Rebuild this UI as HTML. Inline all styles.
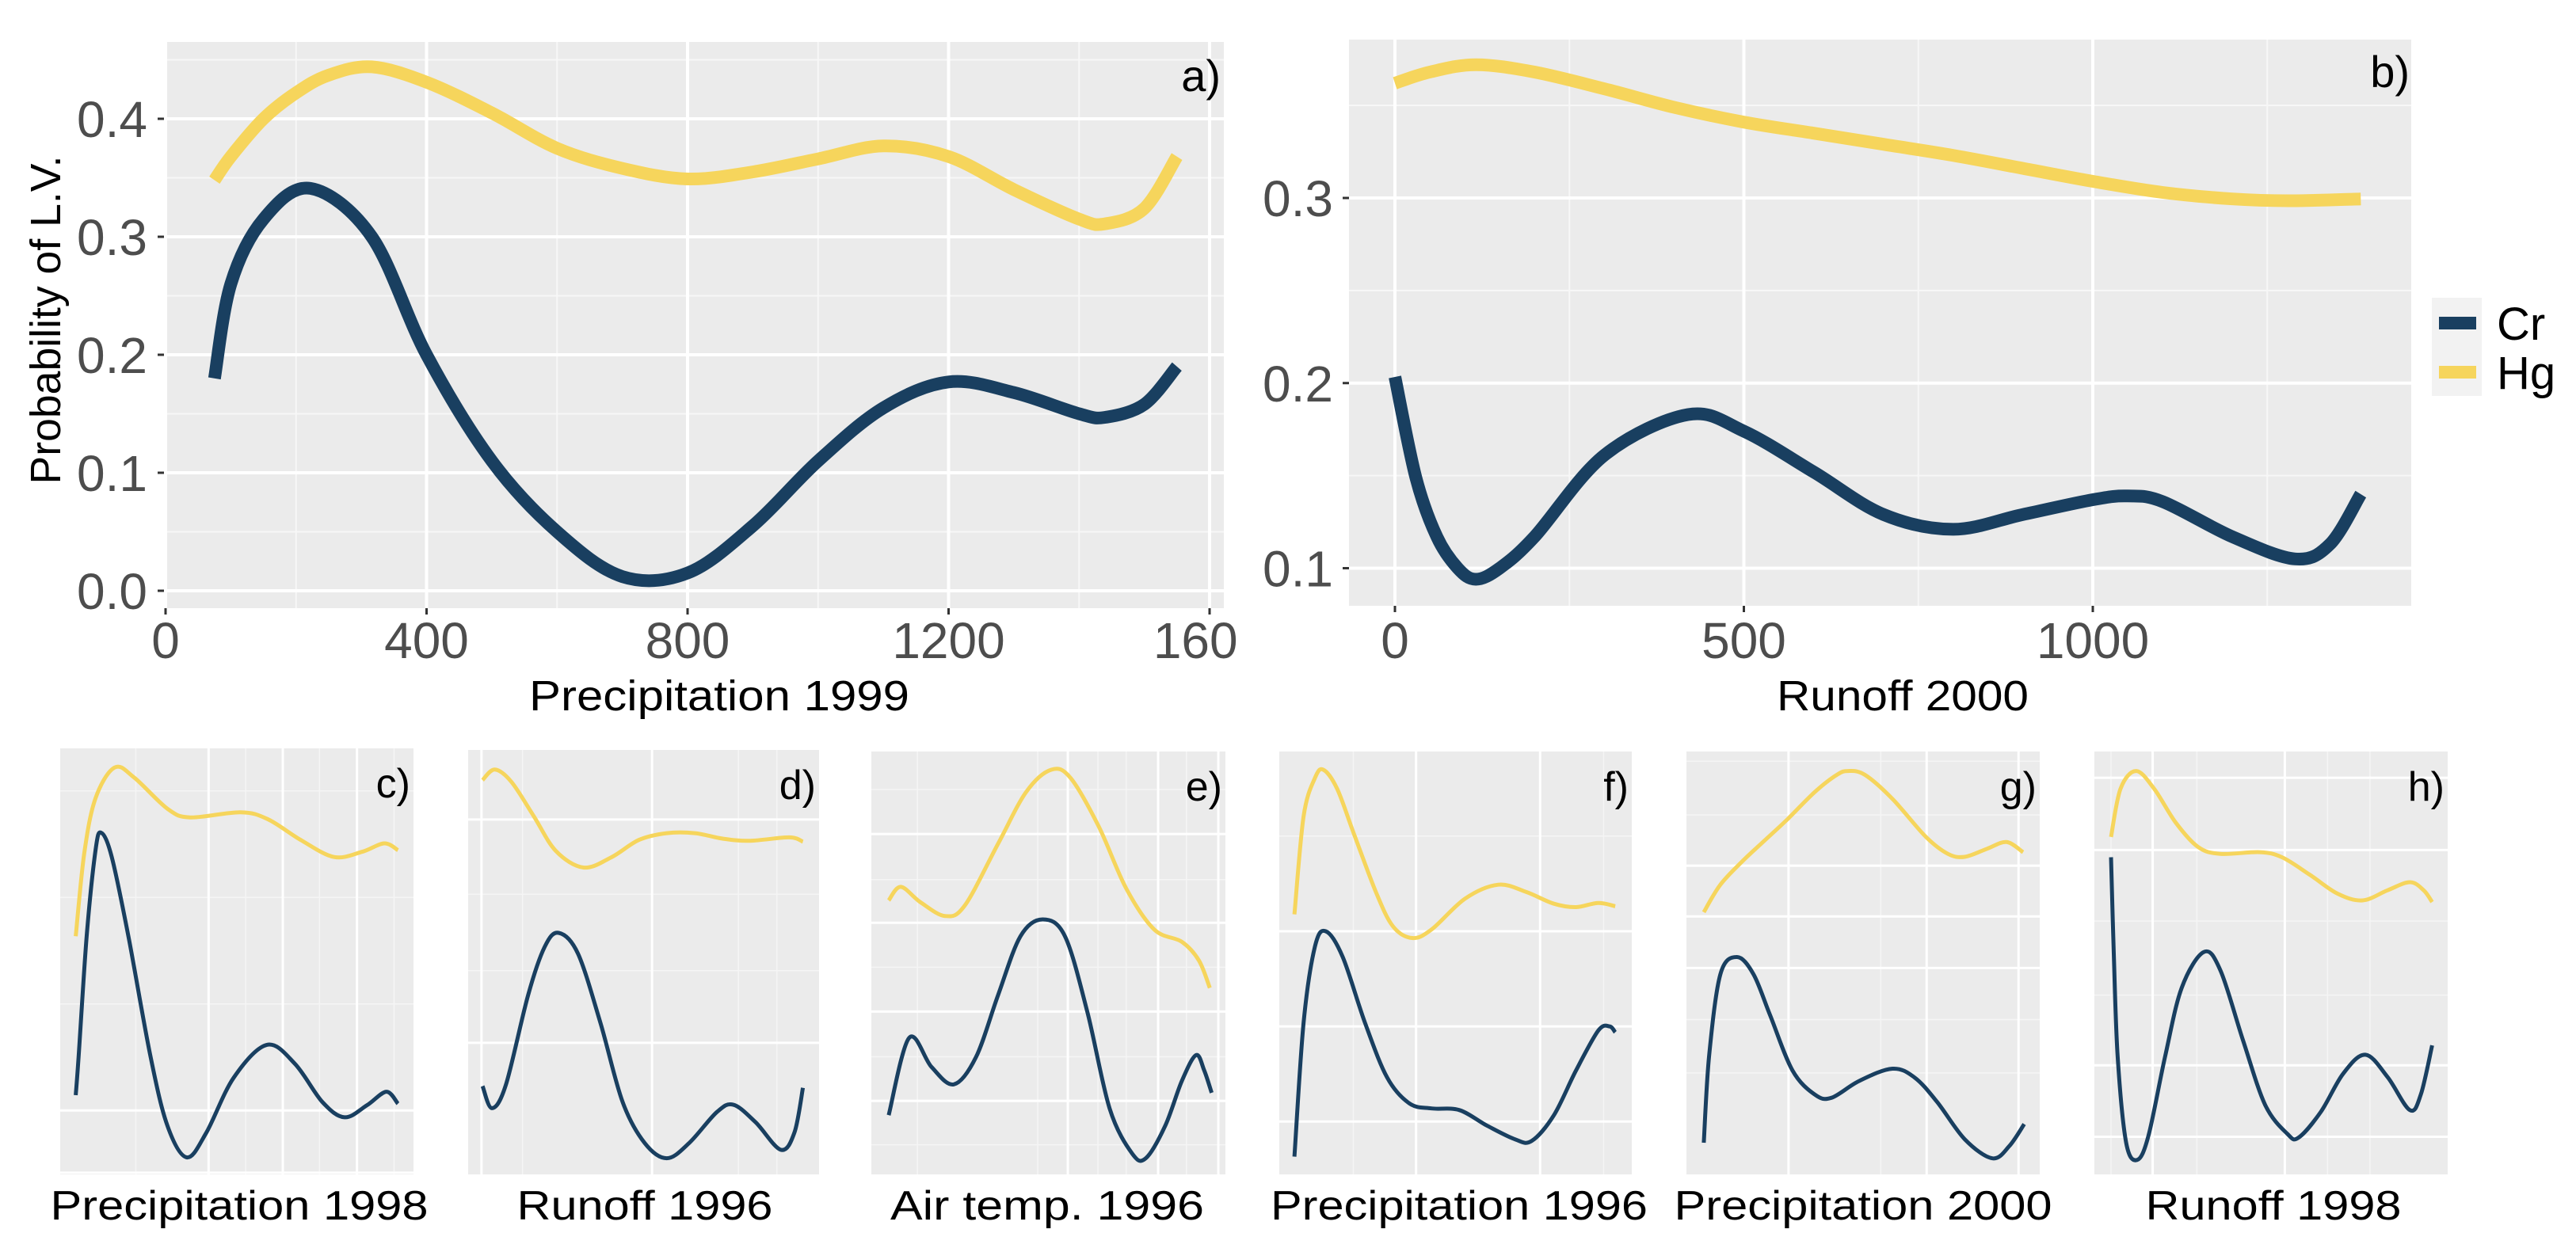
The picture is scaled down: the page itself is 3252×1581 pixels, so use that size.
<!DOCTYPE html>
<html><head><meta charset="utf-8">
<style>
html,body{margin:0;padding:0;background:#fff;}
svg{display:block;}
text{font-family:"Liberation Sans","DejaVu Sans",sans-serif;}
</style></head>
<body>
<svg id="fig" xmlns="http://www.w3.org/2000/svg" width="3252" height="1581" viewBox="0 0 3252 1581">
<defs><clipPath id="clipA"><rect x="0" y="0" width="1562" height="1581"/></clipPath></defs>
</svg>
<script>
// ---------- Panel a data: Precipitation 1999 ----------
const aX = [75,100,150,200,250,316,400,500,600,700,800,900,1000,1100,1200,1300,1400,1440,1500,1550];
const aHg = [0.348,0.368,0.400,0.422,0.437,0.444,0.431,0.405,0.375,0.358,0.349,0.355,0.366,0.377,0.368,0.340,0.315,0.311,0.324,0.368];
const aCrX = [75,100,150,222,316,400,500,600,700,800,900,1000,1100,1200,1300,1400,1440,1500,1550];
const aCr = [0.18,0.26,0.315,0.341,0.30,0.20,0.11,0.05,0.012,0.015,0.055,0.11,0.155,0.177,0.168,0.15,0.147,0.158,0.19];
const aXTicks = [0,400,800,1200,1600];
const aXTickLabels = ["0","400","800","1200","1600"];
const aYTicks = [0,0.1,0.2,0.3,0.4];
const aYTickLabels = ["0.0","0.1","0.2","0.3","0.4"];

// ---------- Panel b data: Runoff 2000 ----------
const bX = [0,30,60,90,116,150,200,300,420,500,600,700,800,900,1000,1050,1100,1200,1290,1340,1384];
const bCr = [0.2033,0.149,0.117,0.100,0.094,0.100,0.117,0.161,0.183,0.174,0.152,0.129,0.121,0.129,0.137,0.139,0.136,0.117,0.105,0.113,0.140];
const bHgX = [0,50,116,200,300,400,500,600,700,800,900,1000,1100,1200,1280,1384];
const bHg = [0.362,0.368,0.372,0.368,0.359,0.349,0.341,0.335,0.329,0.323,0.316,0.309,0.303,0.2995,0.2985,0.2995];
const bXTicks = [0,500,1000];
const bXTickLabels = ["0","500","1000"];
const bYTicks = [0.1,0.2,0.3];
const bYTickLabels = ["0.1","0.2","0.3"];

// ---------- Small panels (relative scale 0-100) ----------
const cHgX = [4.4,6.8,10,15.4,21,30.4,36.8,51,58.7,68.1,77.5,85.4,91.7,95.6];
const cHg  = [55.9,75.3,88.3,95.5,93.1,85.8,83.8,85.0,83.4,78.5,74.5,75.7,77.7,76.1];
const cCrX = [4.4,5.2,7.5,10,11.6,14.6,19.3,25.6,30.4,35.8,41.3,49.1,58.5,66.4,74.2,80.5,86.8,92.3,95.6];
const cCr  = [18.6,27.5,55.9,76.1,80.2,74.5,55.9,27.5,11.3,4.0,9.7,22.7,30.4,26.0,17.0,13.4,16.2,19.4,16.6];

const dHgX = [4.1,7.6,12.3,18.7,25,32.9,40.8,48.7,56.6,64.6,72.5,80.4,91.5,95.4];
const dHg  = [92.9,95.4,92.5,84.4,76.2,72.3,74.7,78.8,80.4,80.4,79.1,78.6,79.4,78.4];
const dCrX = [4.1,6.8,10.8,17.1,21.8,25.8,31.3,37.7,44,50.3,56.6,63,70.9,75.6,81.9,89.1,93,95.4];
const dCr  = [20.8,15.6,21.2,42.3,53.6,56.9,52,35.7,17.1,7.4,3.8,7.4,14.7,16.4,12.3,5.8,9.9,20.4];

const eHgX = [4.9,8.3,13.8,20.8,26.4,35.8,43.7,50.8,56.3,64.2,72,79.9,87.7,92.5,95.6];
const eHg  = [64.8,68,64.4,61.1,63.6,78.2,90.4,95.7,93.7,82.3,67.6,57.9,55,50.6,44.1];
const eCrX = [4.9,10.7,17,23.3,29.6,35.8,42.1,48.4,54.7,61,67.3,73.6,77.5,83,87.7,91.7,94,96.1];
const eCr  = [14,32.3,25.4,21.3,27.8,42.4,56.3,60.3,56.3,38.4,15.6,5,3.8,11.5,22.1,28.2,24.6,19.3];

const fHgX = [4.3,6.9,10.1,12.5,16.4,21.1,27.4,32.2,37.7,43.2,52.7,62.1,70,77.9,84.2,90.5,95.3];
const fHg  = [61.5,84.7,93.7,95.7,91.2,80.7,66.8,58.7,55.9,57.9,65.2,68.5,66.8,64,63.2,64.2,63.4];
const fCrX = [4.3,6.9,10.1,13.2,18,24.3,30.6,36.9,43.2,51.1,59,66.9,71.6,77.9,84.2,90.5,93.7,95.3];
const fCr  = [4.2,35.9,53.8,57.5,51.4,35.9,22.9,16.8,15.6,15.2,11.5,8.3,7.9,14,24.6,34,35,33.6];

const gHgX = [4.9,9.6,15.9,22.2,28.5,36.3,42.6,45.8,50.5,58.3,67.8,74,78.8,85.1,90.6,95.3];
const gHg  = [62,68.5,74.1,79,83.9,90.4,94.5,95.4,94.5,88.8,79.8,75.8,75.1,77,78.6,76.2];
const gCrX = [4.9,6.4,9.6,14.3,19,23.7,30,36.3,41,48.9,58.3,64.6,70.9,78.8,86.6,91.4,95.6];
const gCr  = [7.5,27.8,47.3,51.4,47.3,37.6,24.6,18.9,18.1,22.1,25,22.9,17.2,8.3,3.8,6.7,11.9];

const hHgX = [4.7,7.4,11.8,16.9,23.1,29.4,35.7,46.8,53.1,60.9,68.8,75.9,83,89.3,93.2,95.6];
const hHg  = [79.8,91.2,95.4,91.2,83.1,77.4,75.8,76.2,75,70.9,66.4,64.8,67.2,69.1,67.2,64.4];
const hCrX = [4.7,5.5,6.6,9,12.1,15.3,20,24.7,31,35.7,42,48.3,54.6,57.8,64.1,70.4,76.7,83,89.3,92.4,95.6];
const hCr  = [75,52.2,27.8,7.5,3.4,9.1,27.8,44.1,52.6,48.2,31.9,16.5,9.6,8.7,14.8,23.8,28.3,23,15.2,18.9,30.5];

const smallTitles = ["Precipitation 1998","Runoff 1996","Air temp. 1996","Precipitation 1996","Precipitation 2000","Runoff 1998"];
const smallLetters = ["c)","d)","e)","f)","g)","h)"];

const NS = "http://www.w3.org/2000/svg";
const svg = document.getElementById("fig");
const CR = "#193f60", HG = "#f6d55c";

function mk(tag, attrs, parent) {
  const e = document.createElementNS(NS, tag);
  for (const k in attrs) e.setAttribute(k, attrs[k]);
  (parent || svg).appendChild(e);
  return e;
}
function scale(d0, d1, r0, r1) { return v => r0 + (v - d0) / (d1 - d0) * (r1 - r0); }
function smoothPath(pts) {
  let d = "M" + pts[0][0].toFixed(1) + "," + pts[0][1].toFixed(1);
  for (let i = 0; i < pts.length - 1; i++) {
    const p0 = pts[i - 1] || pts[i], p1 = pts[i], p2 = pts[i + 1], p3 = pts[i + 2] || p2;
    const c1x = p1[0] + (p2[0] - p0[0]) / 6, c1y = p1[1] + (p2[1] - p0[1]) / 6;
    const c2x = p2[0] - (p3[0] - p1[0]) / 6, c2y = p2[1] - (p3[1] - p1[1]) / 6;
    d += " C" + c1x.toFixed(1) + "," + c1y.toFixed(1) + " " + c2x.toFixed(1) + "," + c2y.toFixed(1) + " " + p2[0].toFixed(1) + "," + p2[1].toFixed(1);
  }
  return d;
}
function series(xs, ys, sx, sy, color, w, name, parent) {
  const pts = xs.map((x, i) => [sx(x), sy(ys[i])]);
  const p = mk("path", {d: smoothPath(pts), fill: "none", stroke: color, "stroke-width": w, "stroke-linejoin": "round"}, parent);
  
  
  return p;
}

// ===== Panel a =====
(function () {
  const L = 207, R = 1545, T = 53, B = 768;
  const sx = scale(0, 1600, 209, 1527);
  const sy = scale(0, 0.4, 746, 150);
  const g = mk("g", {});
  
  
  const bg = mk("rect", {x: L, y: T, width: R - L, height: B - T, fill: "#ebebeb"}, g);
  
  
  for (let v = 200; v <= 1400; v += 400) mk("line", {x1: sx(v), x2: sx(v), y1: T, y2: B, stroke: "#f7f7f7", "stroke-width": 2}, g);
  for (let v = 0.05; v < 0.46; v += 0.1) mk("line", {x1: L, x2: R, y1: sy(v), y2: sy(v), stroke: "#f7f7f7", "stroke-width": 2}, g);
  aXTicks.forEach((v, i) => {
    mk("line", {x1: sx(v), x2: sx(v), y1: T, y2: B, stroke: "#fff", "stroke-width": 4}, g);
    mk("line", {x1: sx(v), x2: sx(v), y1: B, y2: B + 8, stroke: "#333", "stroke-width": 3}, g);
    const t = mk("text", {x: sx(v), y: 831, "font-size": 64, fill: "#4d4d4d", "text-anchor": "middle", "clip-path": "url(#clipA)"}, g);
    t.textContent = aXTickLabels[i];
    
    
  });
  aYTicks.forEach((v, i) => {
    mk("line", {x1: L, x2: R, y1: sy(v), y2: sy(v), stroke: "#fff", "stroke-width": 4}, g);
    mk("line", {x1: L - 8, x2: L, y1: sy(v), y2: sy(v), stroke: "#333", "stroke-width": 3}, g);
    const t = mk("text", {x: 186, y: sy(v) + 23, "font-size": 64, fill: "#4d4d4d", "text-anchor": "end"}, g);
    t.textContent = aYTickLabels[i];
    
    
  });
  series(aX, aHg, sx, sy, HG, 16, "hg-line-a", g);
  series(aCrX, aCr, sx, sy, CR, 16, "cr-line-a", g);
  const lab = mk("text", {x: 1541, y: 115, "font-size": 56, fill: "#000", "text-anchor": "end"}, g);
  lab.textContent = "a)";
  
  
  const xt = mk("text", {x: 908, y: 897, "font-size": 54, fill: "#000", "text-anchor": "middle", textLength: 480, lengthAdjust: "spacingAndGlyphs"}, g);
  xt.textContent = "Precipitation 1999";
  
  
  const yt = mk("text", {x: 0, y: 0, "font-size": 54, fill: "#000", "text-anchor": "middle", textLength: 415, lengthAdjust: "spacingAndGlyphs", transform: "translate(76,404) rotate(-90)"}, g);
  yt.textContent = "Probability of L.V.";
  
  
})();

// ===== Panel b =====
(function () {
  const L = 1703, R = 3044, T = 50, B = 765;
  const sx = scale(0, 1000, 1761, 2642);
  const sy = scale(0.1, 0.3, 717.5, 250);
  const g = mk("g", {});
  
  
  const bg = mk("rect", {x: L, y: T, width: R - L, height: B - T, fill: "#ebebeb"}, g);
  
  
  for (let v = 250; v <= 1250; v += 500) mk("line", {x1: sx(v), x2: sx(v), y1: T, y2: B, stroke: "#f7f7f7", "stroke-width": 2}, g);
  for (let v = 0.15; v < 0.39; v += 0.1) mk("line", {x1: L, x2: R, y1: sy(v), y2: sy(v), stroke: "#f7f7f7", "stroke-width": 2}, g);
  bXTicks.forEach((v, i) => {
    mk("line", {x1: sx(v), x2: sx(v), y1: T, y2: B, stroke: "#fff", "stroke-width": 4}, g);
    mk("line", {x1: sx(v), x2: sx(v), y1: B, y2: B + 8, stroke: "#333", "stroke-width": 3}, g);
    const t = mk("text", {x: sx(v), y: 831, "font-size": 64, fill: "#4d4d4d", "text-anchor": "middle"}, g);
    t.textContent = bXTickLabels[i];
    
    
  });
  bYTicks.forEach((v, i) => {
    mk("line", {x1: L, x2: R, y1: sy(v), y2: sy(v), stroke: "#fff", "stroke-width": 4}, g);
    mk("line", {x1: L - 8, x2: L, y1: sy(v), y2: sy(v), stroke: "#333", "stroke-width": 3}, g);
    const t = mk("text", {x: 1683, y: sy(v) + 23, "font-size": 64, fill: "#4d4d4d", "text-anchor": "end"}, g);
    t.textContent = bYTickLabels[i];
    
    
  });
  series(bHgX, bHg, sx, sy, HG, 16, "hg-line-b", g);
  series(bX, bCr, sx, sy, CR, 16, "cr-line-b", g);
  const lab = mk("text", {x: 3042, y: 110, "font-size": 56, fill: "#000", "text-anchor": "end"}, g);
  lab.textContent = "b)";
  
  
  const xt = mk("text", {x: 2402, y: 897, "font-size": 54, fill: "#000", "text-anchor": "middle", textLength: 318, lengthAdjust: "spacingAndGlyphs"}, g);
  xt.textContent = "Runoff 2000";
  
  
})();

// ===== Legend =====
(function () {
  const g = mk("g", {});
  
  
  mk("rect", {x: 3070, y: 376, width: 63, height: 124, fill: "#f2f2f2"}, g);
  const k1 = mk("line", {x1: 3079, x2: 3126, y1: 408, y2: 408, stroke: CR, "stroke-width": 16}, g);
  
  
  const k2 = mk("line", {x1: 3079, x2: 3126, y1: 470, y2: 470, stroke: HG, "stroke-width": 16}, g);
  
  
  const t1 = mk("text", {x: 3152, y: 429, "font-size": 58, fill: "#000"}, g);
  t1.textContent = "Cr";
  
  
  const t2 = mk("text", {x: 3152, y: 491, "font-size": 58, fill: "#000"}, g);
  t2.textContent = "Hg";
  
  
})();

// ===== Small panels =====
const smallBoxes = [[76,522,945,1483],[591,1034,947,1483],[1100,1547,949,1483],[1615,2060,949,1483],[2129,2575,949,1483],[2644,3090,949,1483]];
const smallTitleX = [302,814,1322,1842,2352,2870];
const smallTitleW = [477,323,396,476,477,323];
const smallMajV = [[42,63,84],[3.8,52.4],[55.5,81,98],[38.8,74],[28.9,68,94],[16.5,53.9]];
const smallMinV = [[21.4,52.5,73.4,94.5],[15.5,77,88],[13,47,64,72,89],[21,92],[55],[4.7,29,66,78]];
const smallMajH = [[15,0.4],[83.6,31],[80.5,59.5,38.5,17.4],[57.5,35,12.5],[73,61,48.8],[93.8,76.7,25.8,8.9]];
const smallMinH = [[40,65,90],[66,48],[91,69.7,49,27.8,7],[80],[97.7,85,36.6,24],[59.9,42.4]];
const smallData = [[cHgX,cHg,cCrX,cCr],[dHgX,dHg,dCrX,dCr],[eHgX,eHg,eCrX,eCr],[fHgX,fHg,fCrX,fCr],[gHgX,gHg,gCrX,gCr],[hHgX,hHg,hCrX,hCr]];

smallBoxes.forEach((bx, i) => {
  const [L, R, T, B] = bx;
  const sx = scale(0, 100, L, R);
  const sy = scale(0, 100, B, T);
  const g = mk("g", {});
  
  
  mk("rect", {x: L, y: T, width: R - L, height: B - T, fill: "#ebebeb"}, g);
  smallMinV[i].forEach(v => mk("line", {x1: sx(v), x2: sx(v), y1: T, y2: B, stroke: "#f5f5f5", "stroke-width": 1.5}, g));
  smallMinH[i].forEach(v => mk("line", {x1: L, x2: R, y1: sy(v), y2: sy(v), stroke: "#f5f5f5", "stroke-width": 1.5}, g));
  smallMajV[i].forEach(v => mk("line", {x1: sx(v), x2: sx(v), y1: T, y2: B, stroke: "#fff", "stroke-width": 3}, g));
  smallMajH[i].forEach(v => mk("line", {x1: L, x2: R, y1: sy(v), y2: sy(v), stroke: "#fff", "stroke-width": 3}, g));
  const d = smallData[i];
  series(d[0], d[1], sx, sy, HG, 5, "hg-line-" + smallLetters[i][0], g);
  series(d[2], d[3], sx, sy, CR, 5, "cr-line-" + smallLetters[i][0], g);
  const lab = mk("text", {x: R - 4, y: T + 62, "font-size": 52, fill: "#000", "text-anchor": "end"}, g);
  lab.textContent = smallLetters[i];
  
  
  const t = mk("text", {x: smallTitleX[i], y: 1540, "font-size": 52, fill: "#000", "text-anchor": "middle", textLength: smallTitleW[i], lengthAdjust: "spacingAndGlyphs"}, g);
  t.textContent = smallTitles[i];
  
  
});
</script>
</body></html>
